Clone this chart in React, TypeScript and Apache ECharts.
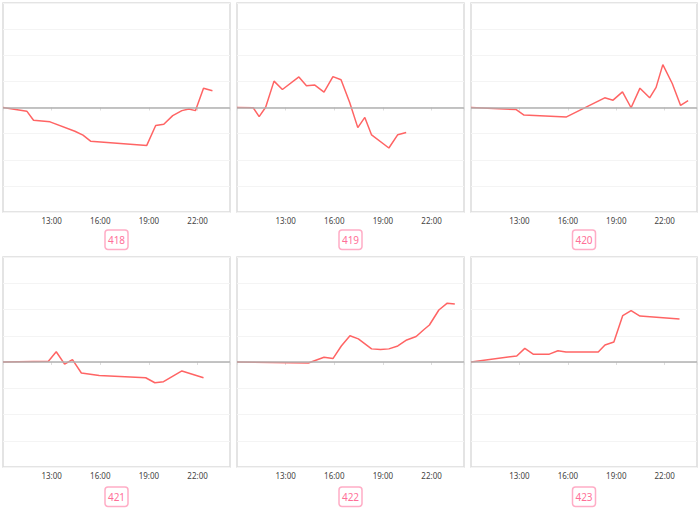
import React, { useEffect, useRef } from "react";
import * as echarts from "echarts";

const panelNames = ["418", "419", "420", "421", "422", "423"];

const times418 = ["10:00", "11:28", "11:53", "12:54", "14:26", "14:56", "15:24", "18:52", "19:25", "19:55", "20:28", "21:02", "21:28", "21:52", "22:22", "22:55"];
const values418 = [0, -0.14, -0.49, -0.55, -0.91, -1.06, -1.29, -1.45, -0.69, -0.64, -0.31, -0.12, -0.06, -0.12, 0.74, 0.64];

const times419 = ["10:00", "11:00", "11:22", "11:46", "12:17", "12:48", "13:49", "14:17", "14:48", "15:22", "15:55", "16:25", "16:57", "17:27", "17:53", "18:18", "19:22", "19:55", "20:26"];
const values419 = [0, -0.01, -0.35, 0.01, 1.01, 0.69, 1.17, 0.83, 0.86, 0.59, 1.18, 1.06, 0.19, -0.77, -0.38, -1.05, -1.55, -1.04, -0.96];

const times420 = ["10:00", "12:48", "13:17", "15:55", "18:17", "18:48", "19:23", "19:55", "20:28", "21:04", "21:28", "21:53", "22:28", "22:59", "23:27"];
const values420 = [0, -0.08, -0.29, -0.36, 0.37, 0.28, 0.6, -0.01, 0.74, 0.37, 0.77, 1.64, 0.92, 0.08, 0.26];

const times421 = ["10:00", "12:48", "13:17", "13:48", "14:17", "14:50", "15:56", "18:48", "19:22", "19:54", "21:02", "22:22"];
const values421 = [0, 0.03, 0.39, -0.08, 0.09, -0.42, -0.51, -0.6, -0.79, -0.75, -0.34, -0.6];

const times422 = ["10:00", "14:24", "15:22", "15:55", "16:26", "16:58", "17:29", "18:18", "18:51", "19:22", "19:55", "20:28", "21:03", "21:31", "21:52", "22:27", "22:58", "23:26"];
const values422 = [0, -0.04, 0.18, 0.13, 0.61, 1.0, 0.88, 0.5, 0.48, 0.5, 0.61, 0.84, 0.97, 1.23, 1.41, 1.98, 2.24, 2.21];

const times423 = ["10:00", "12:50", "13:20", "13:51", "14:51", "15:23", "15:53", "17:53", "18:18", "18:51", "19:24", "19:55", "20:28", "22:55"];
const values423 = [0, 0.23, 0.52, 0.3, 0.3, 0.43, 0.38, 0.38, 0.65, 0.76, 1.77, 1.96, 1.75, 1.64];

const tickLabels = ["13:00", "16:00", "19:00", "22:00"];

const allTimes = [times418, times419, times420, times421, times422, times423];
const allValues = [values418, values419, values420, values421, values422, values423];

const START_HOUR = 10;

function toOffset(t: string): number {
  const [h, m] = t.split(":").map(Number);
  return h + m / 60 - START_HOUR;
}

const cols = [
  { left: 3, width: 227 },
  { left: 237, width: 227 },
  { left: 471, width: 226 },
];
const rows = [
  { top: 3, height: 209, boxTop: 230 },
  { top: 257, height: 210, boxTop: 487 },
];

export default function App() {
  const ref = useRef<HTMLDivElement>(null);
  useEffect(() => {
    document.body.style.margin = "0";
    const chart = echarts.init(ref.current!, null, { renderer: "svg" });
    const grids: any[] = [];
    const xAxes: any[] = [];
    const yAxes: any[] = [];
    const series: any[] = [];
    const graphics: any[] = [];
    for (let i = 0; i < 6; i++) {
      const c = cols[i % 3];
      const r = rows[Math.floor(i / 3)];
      grids.push({
        left: c.left,
        top: r.top,
        width: c.width,
        height: r.height,
        show: true,
        borderColor: "#dcdcdc",
        borderWidth: 1.5,
        backgroundColor: "#fff",
      });
      xAxes.push({
        type: "value",
        gridIndex: i,
        min: 0,
        max: 14,
        interval: 3,
        axisLine: { show: false },
        axisTick: { show: true, length: 3, lineStyle: { color: "#ddd" } },
        splitLine: { show: false },
        axisLabel: {
          fontSize: 8,
          color: "#444",
          fontFamily: "Noto Sans",
          margin: 4,
          formatter: (v: number) => {
            const s = `${v + START_HOUR}:00`;
            return tickLabels.includes(s) ? s : "";
          },
        },
      });
      yAxes.push({
        type: "value",
        gridIndex: i,
        min: -4,
        max: 4,
        interval: 1,
        axisLine: { show: false },
        axisTick: { show: false },
        axisLabel: { show: false },
        splitLine: { show: true, lineStyle: { color: "#f4f4f4", width: 1 } },
      });
      series.push({
        type: "line",
        xAxisIndex: i,
        yAxisIndex: i,
        data: allTimes[i].map((t, k) => [toOffset(t), allValues[i][k]]),
        showSymbol: false,
        symbol: "none",
        lineStyle: { color: "#ff6464", width: 1.5 },
        itemStyle: { color: "#ff6464" },
        markLine: {
          silent: true,
          symbol: "none",
          label: { show: false },
          lineStyle: { color: "#b0b0b0", width: 1.5, type: "solid" },
          data: [{ yAxis: 0 }],
        },
        z: 3,
      });
      const cx = c.left + c.width / 2;
      graphics.push({
        type: "rect",
        shape: { x: cx - 11.5, y: r.boxTop, width: 23, height: 19.5, r: 3 },
        style: { fill: "#fff", stroke: "#ffadc6", lineWidth: 1.5 },
      });
      graphics.push({
        type: "text",
        x: cx,
        y: r.boxTop + 10,
        style: {
          text: panelNames[i],
          fill: "#ff6f98",
          fontSize: 10,
          fontFamily: "Noto Sans",
          textAlign: "center",
          textVerticalAlign: "middle",
        },
      });
    }
    chart.setOption({
      animation: false,
      backgroundColor: "#fff",
      grid: grids,
      xAxis: xAxes,
      yAxis: yAxes,
      series,
      graphic: graphics,
    });
    return () => chart.dispose();
  }, []);
  return <div ref={ref} style={{ position: "absolute", left: 0, top: 0, width: 700, height: 509 }} />;
}
